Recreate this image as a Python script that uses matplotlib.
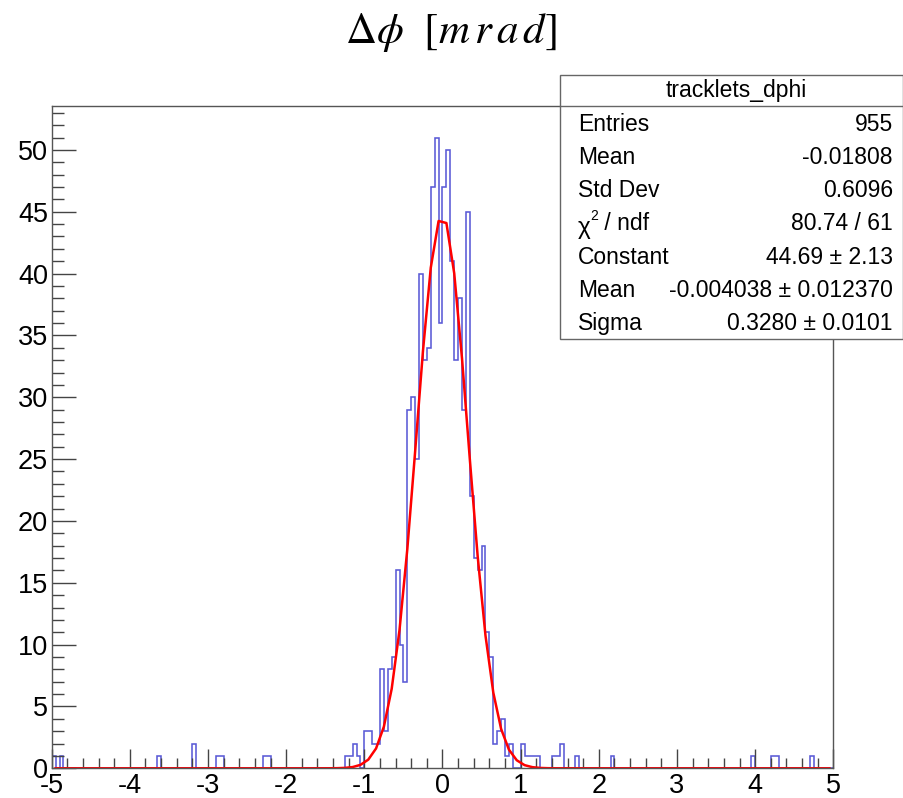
import numpy as np
import matplotlib
matplotlib.use("Agg")
import matplotlib.pyplot as plt
from matplotlib.ticker import MultipleLocator
from matplotlib.patches import Rectangle
from matplotlib.lines import Line2D

plt.rcParams['font.family'] = ['Liberation Sans', 'DejaVu Sans']
plt.rcParams['mathtext.fontset'] = 'stix'
plt.rcParams['axes.unicode_minus'] = False

# histogram: 200 bins of 0.05 between -5 and 5
x_lo, x_hi, n_bins = -5.0, 5.0, 200

# core region, bins starting at -1.25 (step 0.05)
core_start = -1.25
core_counts = [1, 1, 2, 1, 0, 3, 3, 2, 2, 8, 3, 8, 9, 16, 10, 7,
               29, 30, 25, 40, 33, 34, 47, 51, 36, 47, 50, 41, 33, 38, 29, 45, 22,
               17, 16, 18, 11, 9, 2, 3, 4, 1, 2, 0, 0, 2, 1, 1, 1, 1]

# isolated tail bins (left edge, count)
tail_lo = [-5.0, -4.9, -3.65, -3.2, -2.9, -2.85, -2.3, -2.25,
           1.4, 1.45, 1.5, 1.7, 2.15, 3.95, 4.2, 4.25, 4.7]
tail_n = [1, 1, 1, 2, 1, 1, 1, 1,
          1, 1, 2, 1, 1, 1, 1, 1, 1]

# gaussian fit
fit_const, fit_mean, fit_sigma = 44.69, -0.004038, 0.3280

stats_title = 'tracklets_dphi'
stats_rows = [('Entries', '955'),
              ('Mean', '-0.01808'),
              ('Std Dev', '0.6096'),
              ('chi2', '80.74 / 61'),
              ('Constant', '44.69 \u00b1 2.13'),
              ('Mean', '-0.004038 \u00b1 0.012370'),
              ('Sigma', '0.3280 \u00b1 0.0101')]

W, H = 904, 798
edges = np.linspace(x_lo, x_hi, n_bins + 1)
bw = (x_hi - x_lo) / n_bins
counts = np.zeros(n_bins)
i0 = int(round((core_start - x_lo) / bw))
counts[i0:i0 + len(core_counts)] = core_counts
for lo, n in zip(tail_lo, tail_n):
    counts[int(round((lo - x_lo) / bw))] = n

fig = plt.figure(figsize=(W / 100, H / 100), dpi=100)


def fx(px):
    return px / W


def fy(py):
    return 1 - py / H


ax = fig.add_axes([fx(51.7), fy(768.3), fx(833.3 - 51.7), (768.3 - 106) / H])
ax.stairs(counts, edges, color='#5a5ad6', lw=1.15)

xf = np.linspace(x_lo + 0.05, x_hi - 0.05, 100)
yf = fit_const * np.exp(-0.5 * ((xf - fit_mean) / fit_sigma) ** 2)
ax.plot(xf, yf, color='#ff0000', lw=1.8)

ax.set_xlim(x_lo, x_hi)
ax.set_ylim(0, 1.05 * counts.max())
ax.xaxis.set_major_locator(MultipleLocator(1))
ax.xaxis.set_minor_locator(MultipleLocator(0.2))
ax.yaxis.set_major_locator(MultipleLocator(5))
ax.yaxis.set_minor_locator(MultipleLocator(1))
ax.tick_params(axis='x', which='major', direction='in', length=14, width=1,
               color='#444444', labelsize=19.5, pad=3.5)
ax.tick_params(axis='x', which='minor', direction='in', length=7, width=1,
               color='#444444')
ax.tick_params(axis='y', which='major', direction='in', length=17, width=1,
               color='#444444', labelsize=19.5, pad=2.5)
ax.tick_params(axis='y', which='minor', direction='in', length=8.5, width=1,
               color='#444444')
for s in ax.spines.values():
    s.set_color('#555555')
    s.set_linewidth(1)

# title
fig.text(fx(451), fy(33), r'$\Delta\phi\ \ [m\,r\,a\,d]$', fontsize=31,
         ha='center', va='center')

# stats box
box_l, box_r, box_t, box_b, head_b = 560, 903, 75, 339, 106
fig.add_artist(Rectangle((fx(box_l), fy(box_b)), fx(box_r - box_l),
                         (box_b - box_t) / H, transform=fig.transFigure,
                         facecolor='white', edgecolor='#666666', lw=1,
                         zorder=5))
fig.add_artist(Line2D([fx(box_l), fx(box_r)], [fy(head_b), fy(head_b)],
                      transform=fig.transFigure, color='#666666', lw=1,
                      zorder=6))
fig.text(fx(736), fy(91), stats_title, fontsize=16.5, ha='center',
         va='center', zorder=7)
row_h = (box_b - head_b) / len(stats_rows)
for k, (lab, val) in enumerate(stats_rows):
    yc = head_b + row_h * (k + 0.5) + 1.5
    if lab == 'chi2':
        fig.text(fx(578), fy(yc + 4), '\u03c7', fontsize=17.5, ha='left',
                 va='center', zorder=7)
        fig.text(fx(590), fy(yc - 8), '2', fontsize=10, ha='left',
                 va='center', zorder=7)
        fig.text(fx(598), fy(yc), ' / ndf', fontsize=16.5, ha='left',
                 va='center', zorder=7)
    else:
        fig.text(fx(578), fy(yc), lab, fontsize=16.5, ha='left', va='center',
                 zorder=7)
    fig.text(fx(893), fy(yc), val, fontsize=16.5, ha='right', va='center',
             zorder=7)

fig.savefig('out.png', dpi=100)
